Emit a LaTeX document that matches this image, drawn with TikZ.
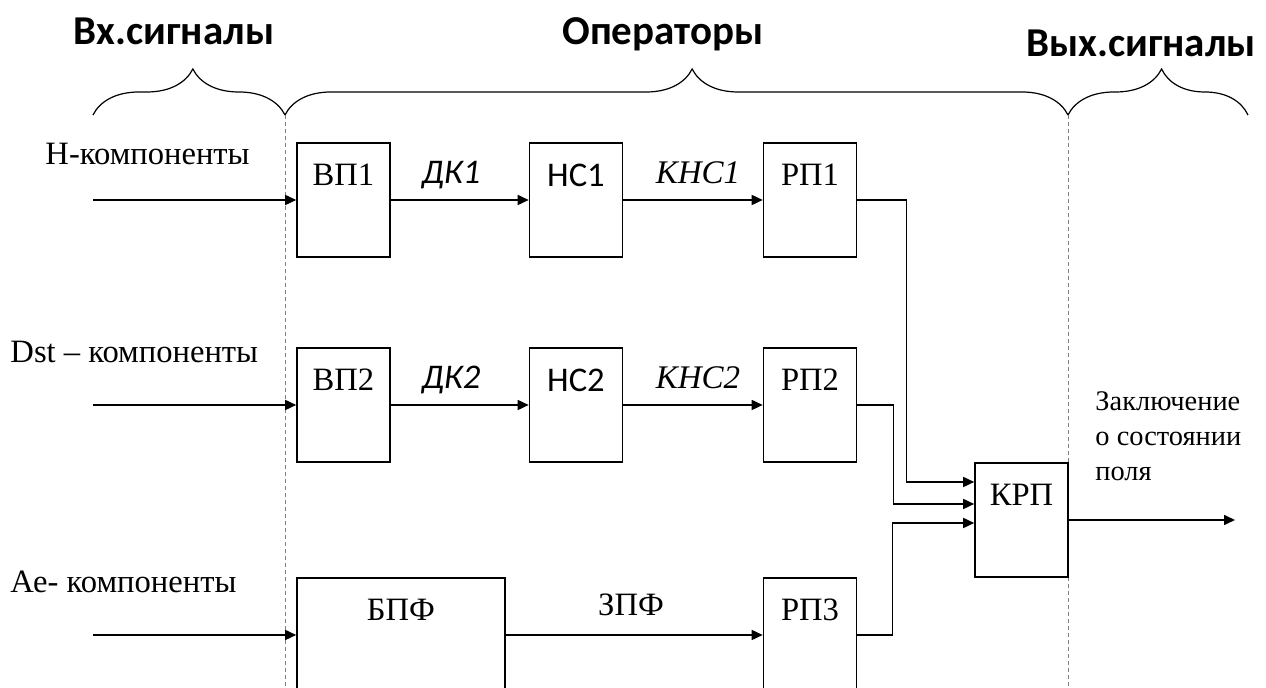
\documentclass[tikz,border=0pt]{standalone}
\usepackage{fontspec}
\setmainfont{Liberation Serif}
\newfontfamily\cbr{Carlito}
\usetikzlibrary{arrows.meta,decorations.pathreplacing,calc}

\begin{document}
\begin{tikzpicture}[
  x=0.5pt, y=-0.5pt, >={Triangle[length=5.5pt,width=5pt]},
  line width=0.8pt, font=\fontsize{16.3}{17.5}\selectfont,
  blk/.style={draw, fill=white, minimum width=46.5pt, minimum height=57pt, inner sep=0pt},
  tag/.style={anchor=north, inner sep=0pt, yshift=-10.5pt},
  hdr/.style={font=\cbr\bfseries\fontsize{20.5}{24}\selectfont, anchor=base},
  sans/.style={font=\cbr\fontsize{17.3}{20}\selectfont},
  sansit/.style={font=\cbr\itshape\fontsize{17.3}{20}\selectfont},
  serit/.style={font=\itshape\fontsize{16.5}{18}\selectfont},
  sep/.style={gray, dashed, line width=0.5pt, dash pattern=on 2pt off 1.5pt},
  brc/.style={decorate, decoration={brace, amplitude=23pt, aspect=0.52}, line width=0.6pt}
]
\useasboundingbox (0,0) rectangle (1266,688);
\clip (0,0) rectangle (1266,688);

% headers and braces
\node[hdr] (hin) at (174,45) {Вх.сигналы};
\node[hdr] (hop) at (663,45) {Операторы};
\node[hdr] (hout) at (1141,57) {Вых.сигналы};
\draw[brc] (93,115) -- (285,115);
\draw[brc] (285,115) -- (1068,115);
\draw[brc] (1068,115) -- (1248,115);
\draw[sep] (285,115) -- (285,688);
\draw[sep] (1068,115) -- (1068,688);

% row 1
\node[anchor=base west] (hcomp) at (38,165) {Н-компоненты};
\coordinate (in1) at (93,200);
\node[blk, label={[tag]north:ВП1}] (vp1) at (343.5,200) {};
\node[blk, label={[tag, sans]north:НС1}] (nc1) at (576,200) {};
\node[blk, label={[tag]north:РП1}] (rp1) at (810,200) {};
\node[sansit, anchor=base] (dk1) at (451,184) {ДК1};
\node[serit, anchor=base] (knc1) at (698,184) {КНС1};

% row 2
\node[anchor=base west] (dcomp) at (3,363) {Dst – компоненты};
\coordinate (in2) at (93,405);
\node[blk, label={[tag]north:ВП2}] (vp2) at (343.5,405) {};
\node[blk, label={[tag, sans]north:НС2}] (nc2) at (576,405) {};
\node[blk, label={[tag]north:РП2}] (rp2) at (810,405) {};
\node[sansit, anchor=base] (dk2) at (451,389) {ДК2};
\node[serit, anchor=base] (knc2) at (698,389) {КНС2};

% row 3
\node[anchor=base west] (acomp) at (3,593) {Ае- компоненты};
\coordinate (in3) at (93,635);
\node[blk, minimum width=104pt, label={[tag]north:БПФ}] (bpf) at (401,635) {};
\node[blk, label={[tag]north:РП3}] (rp3) at (810,635) {};
\node[anchor=base] (zpf) at (631,616) {ЗПФ};

% result
\node[blk, label={[tag]north:КРП}] (krp) at (1021.5,520) {};
\coordinate (out) at (1235,520);
\node[anchor=base west, align=left, font=\fontsize{14.2}{17.5}\selectfont] (res) at (1088,481) {Заключение\\о состоянии\\поля};

% connectors
\draw[->] (in1) -- (vp1);
\draw[->] (vp1) -- (nc1);
\draw[->] (nc1) -- (rp1);
\draw[->] (in2) -- (vp2);
\draw[->] (vp2) -- (nc2);
\draw[->] (nc2) -- (rp2);
\draw[->] (in3) -- (bpf);
\draw[->] (bpf) -- (rp3);
\draw[->] (rp1.east) -- ++(49,0) |- ($(krp.west)+(0,-38)$);
\draw[->] (rp2.east) -- ++(36,0) |- ($(krp.west)+(0,-16)$);
\draw[->] (rp3.east) -- ++(35,0) |- ($(krp.west)+(0,3)$);
\draw[->] (krp) -- (out);
\end{tikzpicture}
\end{document}
